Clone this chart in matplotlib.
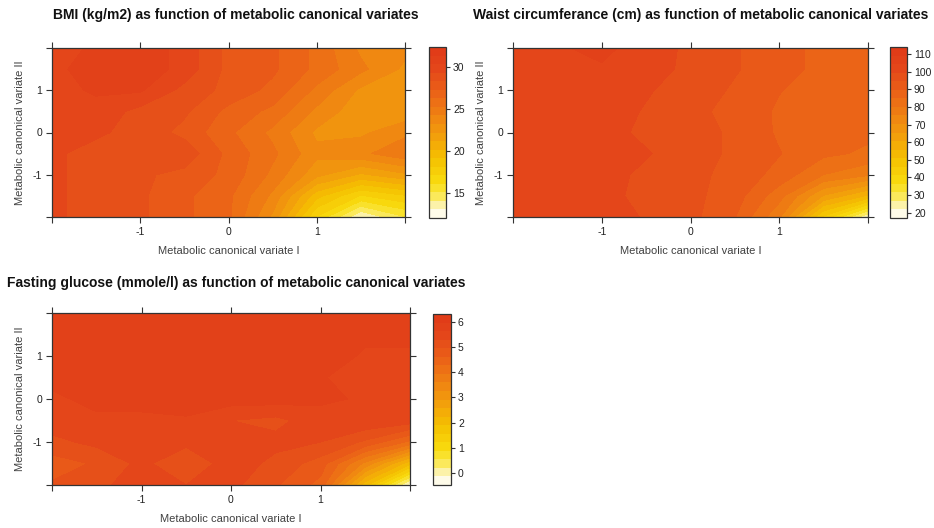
import numpy as np
import matplotlib
matplotlib.use("Agg")
import matplotlib.pyplot as plt
from matplotlib.colors import LinearSegmentedColormap

plt.rcParams['font.family'] = ['Liberation Sans', 'DejaVu Sans']

# grid of the two canonical variates (cell centres)
cv1 = [-2.0, -1.5, -1.0, -0.5, 0.0, 0.5, 1.0, 1.5, 2.0]
cv2 = [-2.0, -1.5, -1.0, -0.5, 0.0, 0.5, 1.0, 1.5, 2.0]

# rows follow cv2 (bottom -> top), columns follow cv1 (left -> right)
bmi = [
    [29.5, 29.0, 28.5, 27.5, 26.5, 23.0, 17.0, 13.0, 15.0],
    [29.5, 29.0, 28.5, 27.5, 26.5, 24.0, 19.5, 17.0, 18.0],
    [29.5, 29.0, 28.5, 28.0, 27.0, 25.0, 22.5, 21.0, 22.0],
    [29.5, 29.0, 28.5, 29.0, 27.0, 25.5, 23.5, 24.0, 25.0],
    [29.5, 29.5, 29.0, 28.0, 26.5, 25.0, 23.0, 23.0, 24.0],
    [29.5, 30.0, 29.0, 28.5, 27.0, 26.0, 24.0, 22.5, 22.5],
    [30.0, 30.5, 30.5, 29.0, 28.0, 27.0, 25.0, 23.0, 22.5],
    [30.0, 31.0, 31.0, 30.0, 28.0, 27.5, 26.0, 24.5, 23.0],
    [30.0, 30.5, 31.0, 30.0, 28.0, 27.5, 26.0, 24.0, 23.5],
]

waist = [
    [103, 103, 102, 99, 96, 90, 76, 45, 22],
    [103, 103, 101, 98, 96, 92, 82, 65, 55],
    [103, 103, 102, 98, 96, 93, 88, 80, 76],
    [103, 103, 102, 100, 96, 94, 90, 86, 84],
    [103, 103, 102, 98, 96, 94, 89, 86, 86],
    [103, 103, 102, 99, 96, 93, 89, 86, 86],
    [103, 103, 103, 100, 97, 94, 90, 87, 86],
    [103, 104, 104, 102, 98, 95, 92, 88, 87],
    [103, 104, 105, 103, 98, 95, 92, 88, 88],
]

glucose = [
    [5.0, 5.2, 5.5, 5.3, 5.4, 5.0, 4.5, 2.0, -0.3],
    [4.8, 5.0, 5.4, 5.0, 5.5, 5.2, 4.8, 3.5, 2.0],
    [5.2, 5.4, 5.6, 5.4, 5.5, 5.4, 5.3, 4.9, 4.2],
    [5.5, 5.6, 5.6, 5.6, 5.3, 5.2, 5.5, 5.6, 5.5],
    [5.6, 5.7, 5.7, 5.8, 5.8, 5.8, 5.7, 5.6, 5.6],
    [5.7, 5.7, 5.8, 5.8, 5.8, 5.8, 5.7, 5.3, 5.6],
    [5.8, 5.8, 5.8, 5.8, 5.8, 5.8, 5.8, 5.6, 5.6],
    [5.8, 5.8, 5.8, 5.8, 5.8, 5.8, 5.8, 5.7, 5.7],
    [5.7, 5.8, 5.8, 5.8, 5.8, 5.8, 5.8, 5.8, 5.7],
]

titles = [
    "BMI (kg/m2) as function of metabolic canonical variates",
    "Waist circumferance (cm) as function of metabolic canonical variates",
    "Fasting glucose (mmole/l) as function of metabolic canonical variates",
]
bar_ticks = [[15, 20, 25, 30],
             [20, 30, 40, 50, 60, 70, 80, 90, 100, 110],
             [0, 1, 2, 3, 4, 5, 6]]
bar_ranges = [(12.0, 32.4), (17.0, 114.0), (-0.48, 6.32)]

heat = LinearSegmentedColormap.from_list("heat_rev", [
    (0.00, "#FFFFFF"), (0.05, "#FDF6D0"), (0.12, "#FBEA60"),
    (0.20, "#F8DC10"), (0.35, "#F5C000"), (0.45, "#F3A60A"),
    (0.60, "#EF8212"), (0.75, "#EA5E18"), (0.88, "#E4461A"),
    (1.00, "#E03A18")])

fig = plt.figure(figsize=(9.34, 5.28), dpi=100)
W, H = 934.0, 528.0

def box(l, t, r, b):
    return [l / W, 1 - b / H, (r - l) / W, (b - t) / H]

panels = [
    (bmi, box(52, 48, 405, 217), box(429, 47, 446, 218), (236, 15)),
    (waist, box(513, 48, 868, 217), box(890, 47, 907, 218), (701, 15)),
    (glucose, box(52, 313, 410, 485), box(433, 314, 451, 485), (236, 283)),
]

edge = "#333333"
for i, (z, pos, cpos, tpos) in enumerate(panels):
    ax = fig.add_axes(pos)
    cax = fig.add_axes(cpos)
    lo, hi = bar_ranges[i]
    levels = np.linspace(lo, hi, 21)
    cf = ax.contourf(cv1, cv2, np.array(z, dtype=float), levels=levels,
                     cmap=heat)
    ax.set_xlim(-2, 2)
    ax.set_ylim(-2, 2)
    ax.set_xticks([-2, -1, 0, 1, 2])
    ax.set_xticklabels(["", "-1", "0", "1", ""])
    ax.set_yticks([-2, -1, 0, 1, 2])
    ax.set_yticklabels(["", "-1", "0", "1", ""])
    ax.tick_params(direction="out", length=4, width=0.8, color=edge,
                   labelsize=7.5, labelcolor="#222222", pad=3,
                   top=True, right=True)
    for s in ax.spines.values():
        s.set_color(edge)
        s.set_linewidth(0.9)
    ax.set_xlabel("Metabolic canonical variate I", fontsize=8,
                  color="#404040", labelpad=7)
    ax.set_ylabel("Metabolic canonical variate II", fontsize=8,
                  color="#404040", labelpad=6)

    cb = fig.colorbar(cf, cax=cax, ticks=bar_ticks[i])
    cb.ax.set_ylim(lo, hi)
    cb.outline.set_edgecolor(edge)
    cb.outline.set_linewidth(0.9)
    cax.tick_params(direction="out", length=3, width=0.8, color=edge,
                    labelsize=7.5, labelcolor="#222222", pad=2)

    fig.text(tpos[0] / W, 1 - tpos[1] / H, titles[i], ha="center",
             va="center", fontsize=10, fontweight="bold", color="#111111")

fig.savefig("out.png", dpi=100, facecolor="white")
